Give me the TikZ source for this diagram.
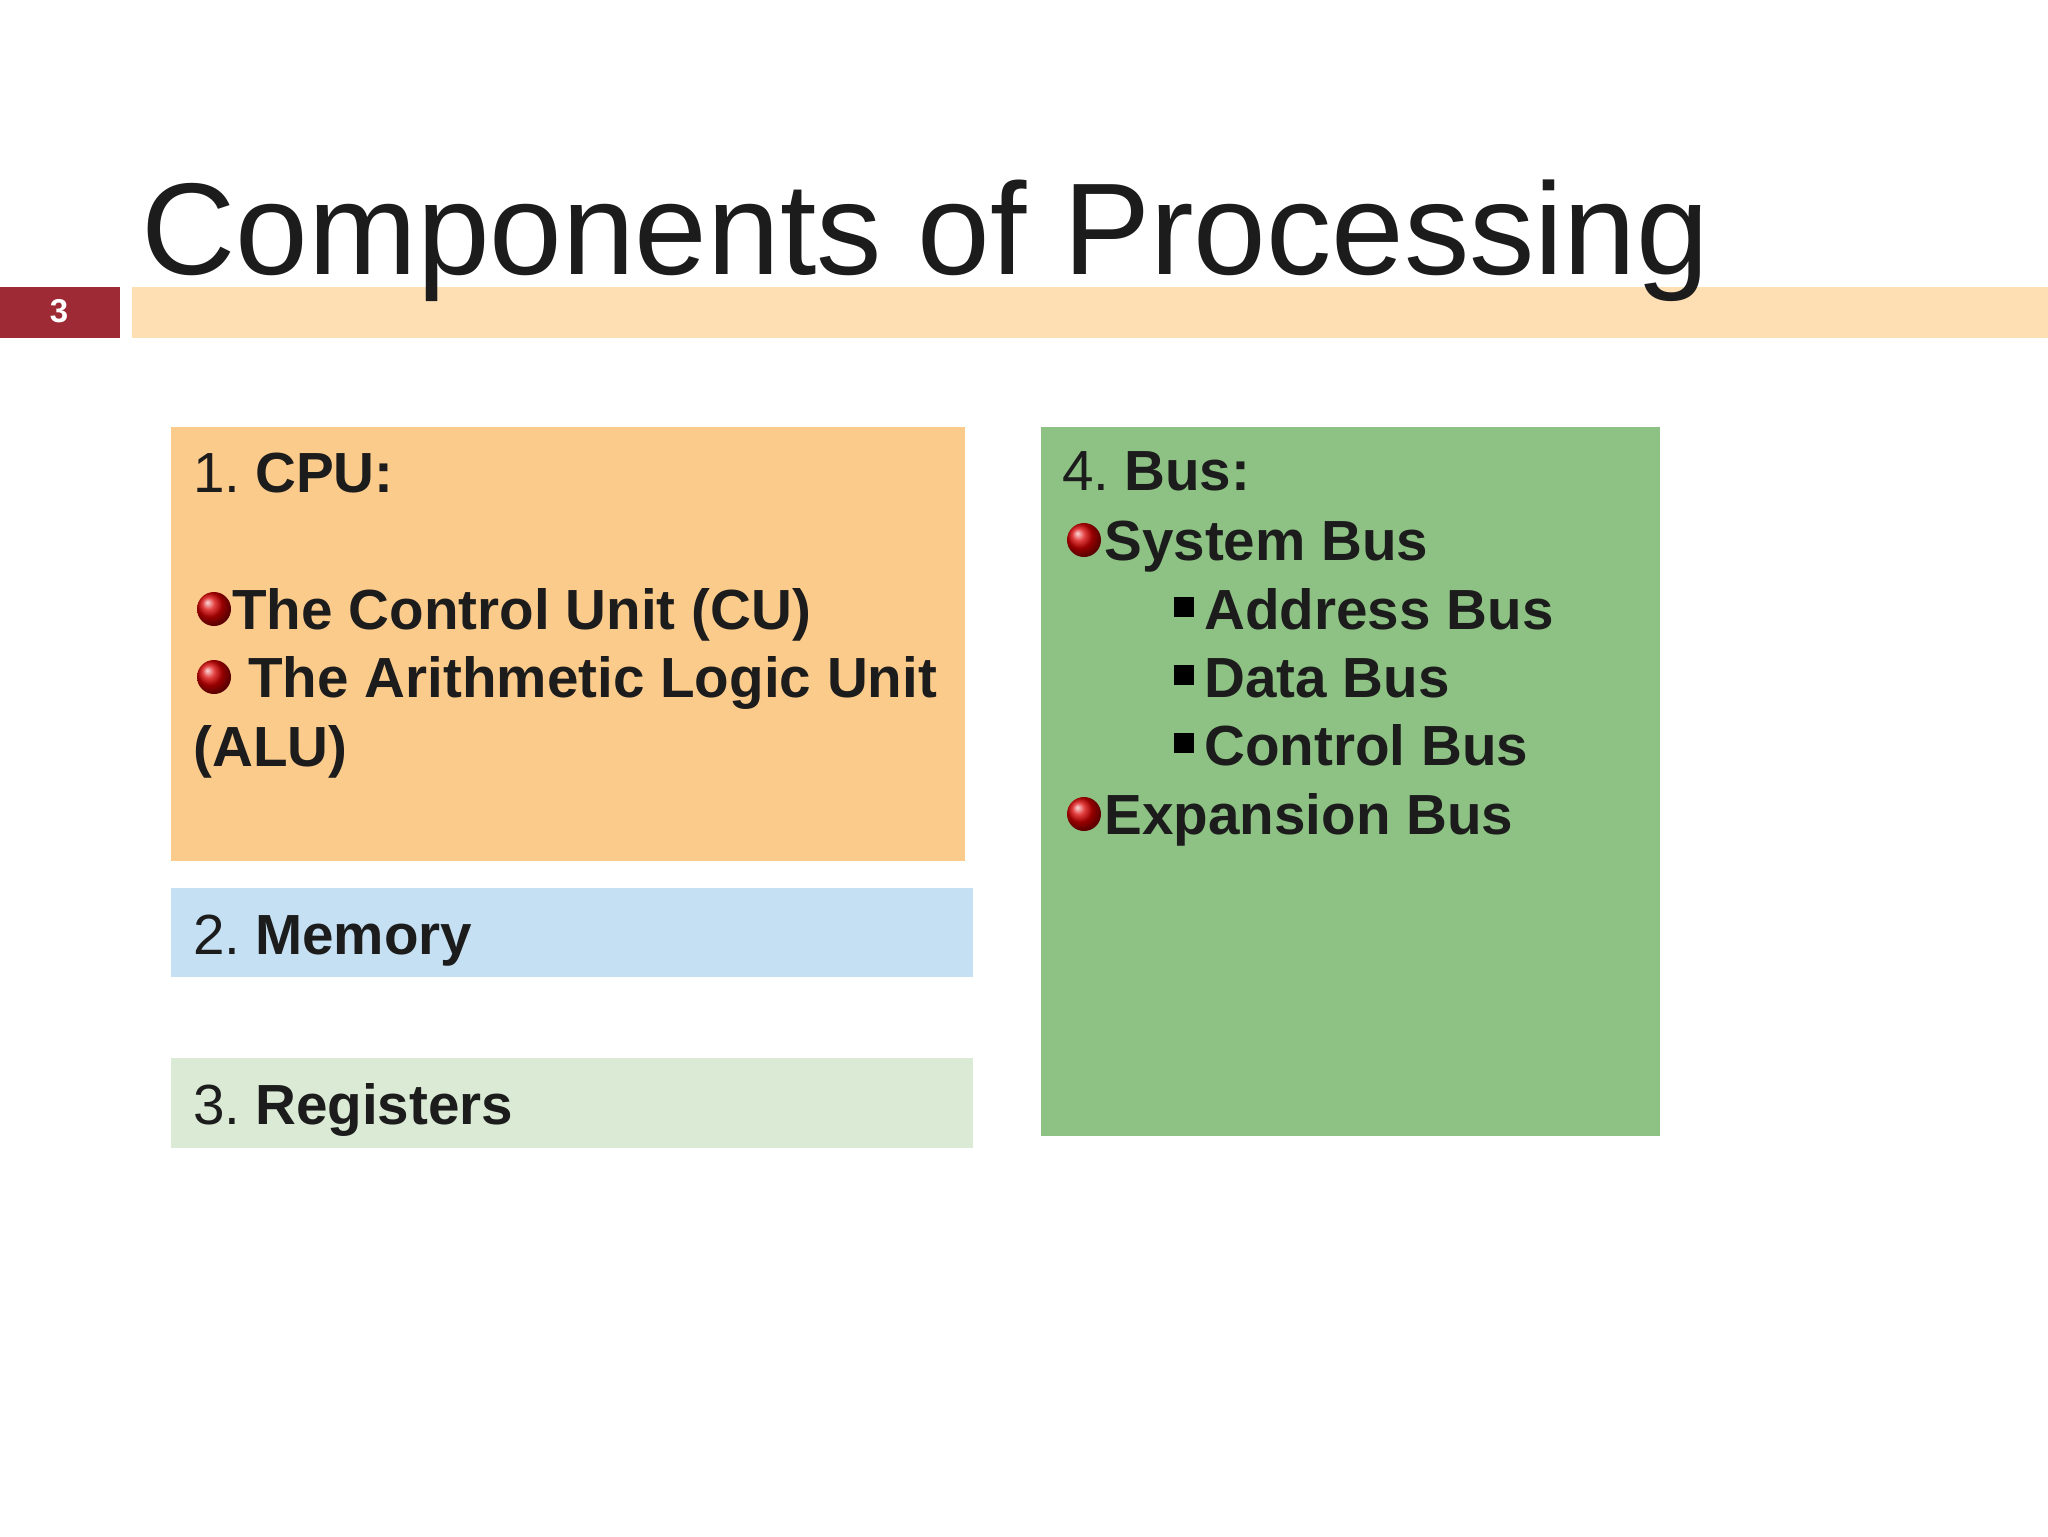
\documentclass[tikz,border=0pt]{standalone}
\usepackage{fontspec}
\setmainfont{Liberation Sans}
\definecolor{numred}{HTML}{9E2A36}
\definecolor{barpeach}{HTML}{FDDFB3}
\definecolor{cpuc}{HTML}{FBCB8C}
\definecolor{memc}{HTML}{C5E0F2}
\definecolor{regc}{HTML}{DAEAD5}
\definecolor{busc}{HTML}{8EC284}
\definecolor{ink}{HTML}{1C1C1C}
\newcommand{\numsep}{\kern7.3pt}
\tikzset{
  panel/.style={anchor=north west, inner sep=0pt, draw=none},
  txt/.style={anchor=base west, inner sep=0pt, text=ink, font=\fontsize{28.3}{34}\selectfont},
  ballbullet/.style={circle, inner sep=0pt, minimum width=16.5pt, minimum height=17pt, shading=ball, ball color=red!85!black},
  sqbullet/.style={rectangle, inner sep=0pt, minimum size=10pt, fill=black},
}
\begin{document}
\begin{tikzpicture}[x=0.5pt,y=-0.5pt]
\useasboundingbox (0,0) rectangle (2048,1536);
\fill[white] (0,0) rectangle (2048,1536);

% header
\node[panel, fill=numred, minimum width=60pt, minimum height=25.5pt] (num) at (0,287) {};
\node[text=white, font=\fontsize{16.5}{18}\selectfont\bfseries] (numtxt) at (59,311) {3};
\node[panel, fill=barpeach, minimum width=958pt, minimum height=25.5pt] (bar) at (132,287) {};
\node[anchor=base west, inner sep=0pt, text=ink, font=\fontsize{65.3}{70}\selectfont] (title) at (141,274) {Components of Processing};

% panels
\node[panel, fill=cpuc, minimum width=397pt, minimum height=217pt] (cpu) at (171,427) {};
\node[panel, fill=memc, minimum width=401pt, minimum height=44.5pt] (mem) at (171,888) {};
\node[panel, fill=regc, minimum width=401pt, minimum height=45pt] (reg) at (171,1058) {};
\node[panel, fill=busc, minimum width=309.5pt, minimum height=354.5pt] (bus) at (1041,427) {};

% CPU text
\node[txt] (cpuh) at (193,492) {1.\numsep\textbf{CPU:}};
\node[ballbullet] (bcu) at (214,609) {};
\node[txt] (cu) at (232,629) {\textbf{The Control Unit (CU)}};
\node[ballbullet] (balu) at (214,677) {};
\node[txt] (alu) at (248,697) {\textbf{The Arithmetic Logic Unit}};
\node[txt] (alu2) at (193,766) {\textbf{(ALU)}};

% Memory / Registers
\node[txt] (memt) at (193,954) {2.\numsep\textbf{Memory}};
\node[txt] (regt) at (193,1124) {3.\numsep\textbf{Registers}};

% Bus text
\node[txt] (bush) at (1062,490) {4.\numsep\textbf{Bus:}};
\node[ballbullet] (bsys) at (1084,540) {};
\node[txt] (sys) at (1104,560) {\textbf{System Bus}};
\node[sqbullet] (sq1) at (1184,607) {};
\node[txt] (addr) at (1204,629) {\textbf{Address Bus}};
\node[sqbullet] (sq2) at (1184,675) {};
\node[txt] (data) at (1204,697) {\textbf{Data Bus}};
\node[sqbullet] (sq3) at (1184,743) {};
\node[txt] (ctrl) at (1204,765) {\textbf{Control Bus}};
\node[ballbullet] (bexp) at (1084,814) {};
\node[txt] (exp) at (1104,834) {\textbf{Expansion Bus}};
\end{tikzpicture}
\end{document}
